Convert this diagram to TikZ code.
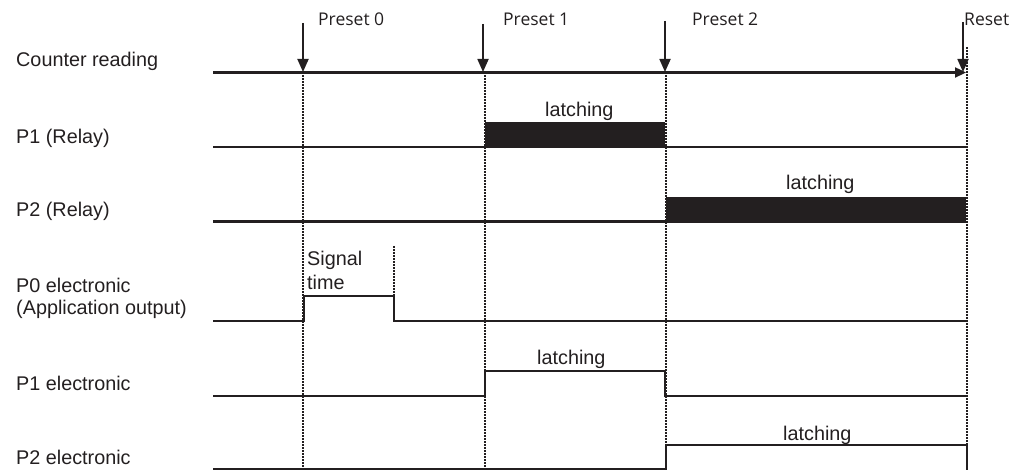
\documentclass[tikz,border=0pt]{standalone}
\usepackage{fontspec}
\setmainfont{Liberation Sans}
\newfontfamily\presetfont{Open Sans}
\usetikzlibrary{arrows.meta}
\definecolor{ink}{HTML}{231F20}
\begin{document}
\begin{tikzpicture}[x=1pt,y=-1pt,
  sig/.style={line width=2.3pt, draw=ink, line join=miter},
  guide/.style={line width=2.6pt, draw=ink, dash pattern=on 2pt off 1pt},
  marker/.style={line width=1.8pt, draw=ink, -{Triangle[length=13pt,width=11pt]}},
  lab/.style={anchor=base west, inner sep=0pt, text=ink, font=\fontsize{19.8}{22}\selectfont},
  plab/.style={anchor=base west, inner sep=0pt, text=ink, font=\presetfont\fontsize{17.5}{20}\selectfont},
  bar/.style={fill=ink, draw=none}]
\useasboundingbox (0,0) rectangle (1031,470);

% ---- left labels
\node[lab] (lcount) at (16,67) {Counter reading};
\node[lab] (lp1r) at (16,144) {P1 (Relay)};
\node[lab] (lp2r) at (16,217) {P2 (Relay)};
\node[lab] (lp0a) at (16,293) {P0 electronic};
\node[lab] (lp0b) at (16,315) {(Application output)};
\node[lab] (lp1e) at (16,390) {P1 electronic};
\node[lab] (lp2e) at (16,464) {P2 electronic};

% ---- preset labels
\node[plab] (pr0) at (318,25.7) {Preset 0};
\node[plab] (pr1) at (503,25.7) {Preset 1};
\node[plab] (pr2) at (692,25.7) {Preset 2};
\node[plab] (prr) at (964,25.7) {Reset};

% ---- guide lines (dotted)
\coordinate (g0t) at (303,72); \coordinate (g0b) at (303,470);
\coordinate (g1t) at (485,72); \coordinate (g1b) at (485,470);
\coordinate (g2t) at (666,72); \coordinate (g2b) at (666,470);
\coordinate (g3t) at (967,47); \coordinate (g3b) at (967,470);
\coordinate (gst) at (394,246); \coordinate (gsb) at (394,296);
\draw[guide] (g0t) -- (g0b);
\draw[guide] (g1t) -- (g1b);
\draw[guide] (g2t) -- (g2b);
\draw[guide] (g3t) -- (g3b);
\draw[guide] (gst) -- (gsb);

% ---- bars (relay latching)
\coordinate (b1a) at (485,122); \coordinate (b1b) at (665,147.5);
\coordinate (b2a) at (666,197); \coordinate (b2b) at (966,222);
\fill[bar] (b1a) rectangle (b1b);
\fill[bar] (b2a) rectangle (b2b);

% ---- signal lines
\coordinate (c0) at (213,72.5); \coordinate (c1) at (966,72.5);
\draw[sig, -{Triangle[length=11pt,width=10pt]}] (c0) -- (c1);

\coordinate (r1a) at (213,146.7); \coordinate (r1b) at (966,146.7);
\draw[sig] (r1a) -- (r1b);

\coordinate (r2a) at (213,221.5); \coordinate (r2b) at (966,221.5);
\draw[sig] (r2a) -- (r2b);

\draw[sig] (213,320.7) coordinate (e0a) -- (304,320.7) -- (304,296) -- (394,296)
  -- (394,320.7) -- (966,320.7) coordinate (e0b);

\draw[sig] (213,396) coordinate (e1a) -- (485,396) -- (485,371) -- (665,371)
  -- (665,396) -- (966,396) coordinate (e1b);

\draw[sig] (213,468.8) coordinate (e2a) -- (666,468.8) -- (666,445) -- (967,445)
  -- (967,470) coordinate (e2b);

% ---- preset arrows
\coordinate (a0s) at (303,23); \coordinate (a0e) at (303,72);
\coordinate (a1s) at (483,24); \coordinate (a1e) at (483,72);
\coordinate (a2s) at (665,21); \coordinate (a2e) at (665,72);
\coordinate (a3s) at (963,22); \coordinate (a3e) at (963,72);
\draw[marker] (a0s) -- (a0e);
\draw[marker] (a1s) -- (a1e);
\draw[marker] (a2s) -- (a2e);
\draw[marker] (a3s) -- (a3e);

% ---- in-plot labels
\node[lab] (lat1) at (545,116.7) {latching};
\node[lab] (lat2) at (786,190) {latching};
\node[lab] (lat3) at (537,365) {latching};
\node[lab] (lat4) at (783,440.5) {latching};
\node[lab] (sig1) at (307,266) {Signal};
\node[lab] (sig2) at (307,290) {time};
\end{tikzpicture}
\end{document}
